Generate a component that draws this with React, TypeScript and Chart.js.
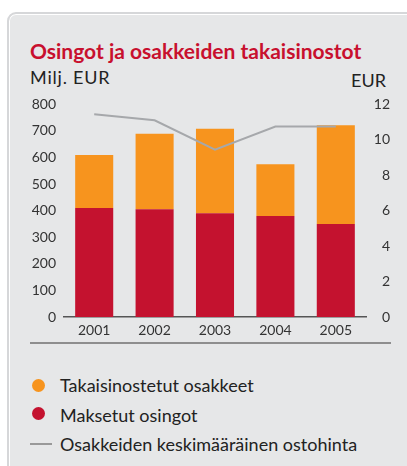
import React, { useEffect, useRef } from "react";
import { Chart, registerables } from "chart.js";

Chart.register(...registerables);

const years = ["2001", "2002", "2003", "2004", "2005"];
const dividends = [410, 405, 390, 380, 350];
const buybacks = [200, 285, 318, 195, 372];
const avgPrice = [11.45, 11.1, 9.45, 10.75, 10.75];
const leftTicks = [0, 100, 200, 300, 400, 500, 600, 700, 800];
const rightTicks = [0, 2, 4, 6, 8, 10, 12];

const RED = "#c4122f";
const ORANGE = "#f7941e";
const GRAY = "#a6a8ab";
const BG = "#e6e7e8";
const FONT = "Lato, 'Open Sans', sans-serif";

function ChartCanvas() {
  const ref = useRef<HTMLCanvasElement | null>(null);
  useEffect(() => {
    if (!ref.current) return;
    const chart = new Chart(ref.current, {
      type: "bar",
      data: {
        labels: years,
        datasets: [
          {
            type: "line",
            label: "Osakkeiden keskimääräinen ostohinta",
            data: avgPrice,
            yAxisID: "y1",
            borderColor: GRAY,
            borderWidth: 2,
            pointRadius: 0,
            tension: 0,
            order: 0,
          } as any,
          {
            label: "Maksetut osingot",
            data: dividends,
            backgroundColor: RED,
            yAxisID: "y",
            stack: "s",
            order: 1,
            barPercentage: 0.63,
            categoryPercentage: 1,
          },
          {
            label: "Takaisinostetut osakkeet",
            data: buybacks,
            backgroundColor: ORANGE,
            yAxisID: "y",
            stack: "s",
            order: 1,
            barPercentage: 0.63,
            categoryPercentage: 1,
          },
        ],
      },
      options: {
        animation: false,
        responsive: false,
        maintainAspectRatio: false,
        layout: { padding: { top: 7, left: 0, right: 0, bottom: 0 } },
        plugins: { legend: { display: false }, tooltip: { enabled: false } },
        scales: {
          x: {
            stacked: true,
            grid: { display: false, drawTicks: false },
            border: { display: true, color: "#555", width: 1.5 },
            ticks: { color: "#333", font: { family: FONT, size: 14 }, padding: 5 },
            afterFit: (s: any) => { s.height = 25; },
          },
          y: {
            stacked: true,
            position: "left",
            min: 0,
            max: 800,
            afterBuildTicks: (s: any) => { s.ticks = leftTicks.map((v) => ({ value: v })); },
            grid: { display: false, drawTicks: false },
            border: { display: false },
            ticks: { color: "#333", font: { family: FONT, size: 14 }, padding: 8 },
            afterFit: (s: any) => { s.width = 44; },
          },
          y1: {
            position: "right",
            min: 0,
            max: 12,
            afterBuildTicks: (s: any) => { s.ticks = rightTicks.map((v) => ({ value: v })); },
            grid: { display: false, drawTicks: false },
            border: { display: false },
            ticks: { color: "#333", font: { family: FONT, size: 14 }, padding: 6, crossAlign: "far" },
            afterFit: (s: any) => { s.width = 24; },
          },
        },
      },
    });
    return () => chart.destroy();
  }, []);
  return (
    <canvas
      ref={ref}
      width={370}
      height={254}
      style={{ position: "absolute", left: 20, top: 88, width: 370, height: 254 }}
    />
  );
}

export default function App() {
  const text: React.CSSProperties = {
    position: "absolute",
    fontFamily: FONT,
    whiteSpace: "nowrap",
    lineHeight: 1.2,
    color: "#222",
  };
  return (
    <div style={{ position: "fixed", left: 0, top: 0, width: 407, height: 466, background: "#fff", overflow: "hidden" }}>
      <div
        style={{
          position: "absolute",
          left: 7,
          top: 12,
          width: 410,
          height: 470,
          border: "2px solid #d6d7d9",
          borderRadius: 9,
          background: BG,
          boxShadow: "inset 0 0 0 1px #fff",
          boxSizing: "border-box",
        }}
      />
      <div style={{ ...text, left: 30, top: 38, fontSize: 21, fontWeight: 700, color: "#c8102e" }}>
        Osingot ja osakkeiden takaisinostot
      </div>
      <div style={{ ...text, left: 30, top: 67, fontSize: 18, letterSpacing: 0.8 }}>Milj. EUR</div>
      <div style={{ ...text, right: 407 - 386, top: 70, fontSize: 18 }}>EUR</div>
      <ChartCanvas />
      <div style={{ position: "absolute", left: 30, top: 342, width: 361, height: 2, background: "#8e8e8e" }} />
      <div style={{ position: "absolute", left: 32, top: 379, width: 13, height: 13, borderRadius: "50%", background: ORANGE }} />
      <div style={{ ...text, left: 60, top: 375, fontSize: 18 }}>Takaisinostetut osakkeet</div>
      <div style={{ position: "absolute", left: 32, top: 407, width: 13, height: 13, borderRadius: "50%", background: RED }} />
      <div style={{ ...text, left: 60, top: 405, fontSize: 18 }}>Maksetut osingot</div>
      <div style={{ position: "absolute", left: 30, top: 443, width: 22, height: 2, background: "#999" }} />
      <div style={{ ...text, left: 60, top: 434, fontSize: 18 }}>Osakkeiden keskimääräinen ostohinta</div>
    </div>
  );
}
